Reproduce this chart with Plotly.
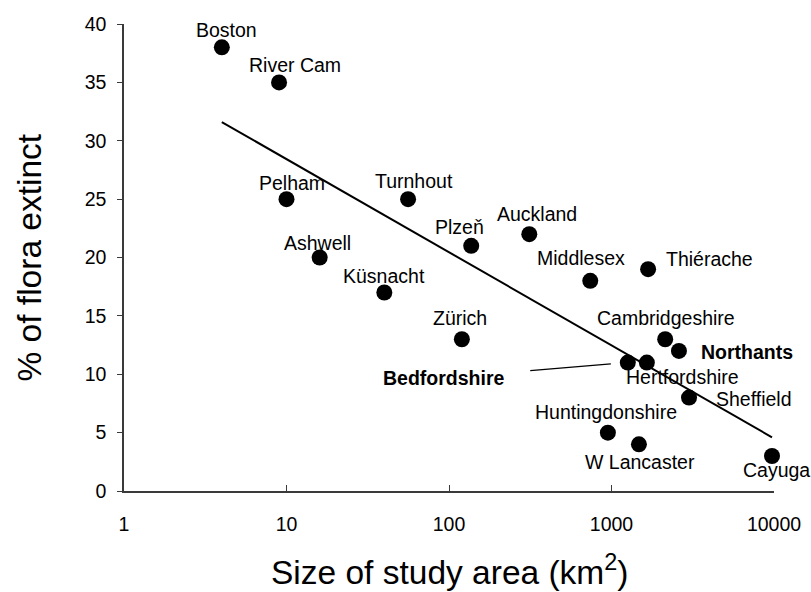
import math
import plotly.graph_objects as go

# ---- data ----
sites = ["Boston", "River Cam", "Pelham", "Turnhout", "Ashwell", "Küsnacht", "Zürich",
         "Plzeň", "Auckland", "Middlesex", "Thiérache", "Cambridgeshire", "Northants",
         "Bedfordshire", "Hertfordshire", "Sheffield", "Huntingdonshire", "W Lancaster", "Cayuga"]
area_km2 = [4, 9, 10, 56, 16, 40, 120, 137, 312, 740, 1680, 2140, 2600,
            1260, 1650, 3000, 950, 1475, 9720]
pct_extinct = [38, 35, 25, 25, 20, 17, 13, 21, 22, 18, 19, 13, 12,
               11, 11, 8, 5, 4, 3]
trend_x = [4, 9720]
trend_y = [31.6, 4.6]
x_ticks = [1, 10, 100, 1000, 10000]
y_ticks = [0, 5, 10, 15, 20, 25, 30, 35, 40]
bold_sites = ["Northants", "Bedfordshire"]

# ---- label offsets (pixels) ----
label_offsets = {
    "Boston": (5, 17), "River Cam": (16, 17), "Pelham": (5, 16), "Turnhout": (6, 18),
    "Ashwell": (-2, 15), "Küsnacht": (0, 17), "Zürich": (-2, 21), "Plzeň": (-12, 19),
    "Auckland": (8, 20), "Middlesex": (-9, 23), "Thiérache": (61, 10),
    "Cambridgeshire": (1, 21), "Northants": (68, -1), "Hertfordshire": (36, -14),
    "Sheffield": (65, -1), "Huntingdonshire": (-2, 21), "W Lancaster": (1, -18),
    "Cayuga": (4, -14),
}

FONT = "Liberation Sans, Arial, sans-serif"
LABEL_SIZE = 19.5
TITLE_SIZE = 33.5
AXIS_COLOR = "#3a3a3a"
W, H = 811, 592
ML, MR, MT, MB = 124, 37, 24, 101
plot_w = W - ML - MR
plot_h = H - MT - MB

fig = go.Figure()
fig.add_trace(go.Scatter(x=trend_x, y=trend_y, mode="lines",
                         line=dict(color="black", width=2), hoverinfo="skip",
                         showlegend=False, cliponaxis=False))
fig.add_trace(go.Scatter(x=area_km2, y=pct_extinct, mode="markers", text=sites,
                         marker=dict(color="black", size=16), showlegend=False,
                         cliponaxis=False))

annotations = []
for name, xv, yv in zip(sites, area_km2, pct_extinct):
    txt = f"<b>{name}</b>" if name in bold_sites else name
    lx = math.log10(xv)  # annotation x on a log axis is given in log10 units
    if name == "Bedfordshire":
        annotations.append(dict(x=lx, y=yv, xref="x", yref="y", text=txt,
                                showarrow=True, arrowhead=0, arrowwidth=1.3,
                                arrowcolor="black", ax=-184, ay=15,
                                standoff=17, startstandoff=24,
                                font=dict(family=FONT, size=LABEL_SIZE, color="black")))
        continue
    dx, dy = label_offsets[name]
    annotations.append(dict(x=lx, y=yv, xref="x", yref="y", text=txt,
                            showarrow=False, xshift=dx, yshift=dy,
                            xanchor="center", yanchor="middle",
                            font=dict(family=FONT, size=LABEL_SIZE, color="black")))

annotations.append(dict(text="Size of study area (km<sup>2</sup>)",
                        x=0.5, y=-(570 - (H - MB)) / plot_h,
                        xref="paper", yref="paper", showarrow=False,
                        xanchor="center", yanchor="middle",
                        font=dict(family=FONT, size=TITLE_SIZE, color="black")))
annotations.append(dict(text="% of flora extinct", x=(29 - ML) / plot_w, y=0.5,
                        xref="paper", yref="paper", showarrow=False, textangle=-90,
                        xanchor="center", yanchor="middle",
                        font=dict(family=FONT, size=TITLE_SIZE, color="black")))

fig.update_layout(
    width=W, height=H,
    margin=dict(l=ML, r=MR, t=MT, b=MB, autoexpand=False),
    plot_bgcolor="white", paper_bgcolor="white",
    font=dict(family=FONT, size=LABEL_SIZE, color="black"),
    showlegend=False,
    annotations=annotations,
)

fig.update_xaxes(type="log", range=[0, 4], tickvals=x_ticks,
                 ticktext=[str(v) for v in x_ticks], automargin=False,
                 showgrid=False, zeroline=False, showline=True,
                 linecolor=AXIS_COLOR, linewidth=1.5,
                 ticks="inside", ticklen=6, tickwidth=1.2, tickcolor=AXIS_COLOR,
                 ticklabelstandoff=15, tickfont=dict(family=FONT, size=LABEL_SIZE, color="black"))
fig.update_yaxes(range=[0, 40], tickvals=y_ticks, showgrid=False, zeroline=False,
                 showline=True, linecolor=AXIS_COLOR, linewidth=1.5, automargin=False,
                 ticks="outside", ticklen=5, tickwidth=1.2, tickcolor=AXIS_COLOR,
                 ticklabelstandoff=7, tickfont=dict(family=FONT, size=LABEL_SIZE, color="black"))

fig.write_html("out.html", config={"displayModeBar": False},
               post_script="document.body.style.margin='0';document.body.style.overflow='hidden';")
